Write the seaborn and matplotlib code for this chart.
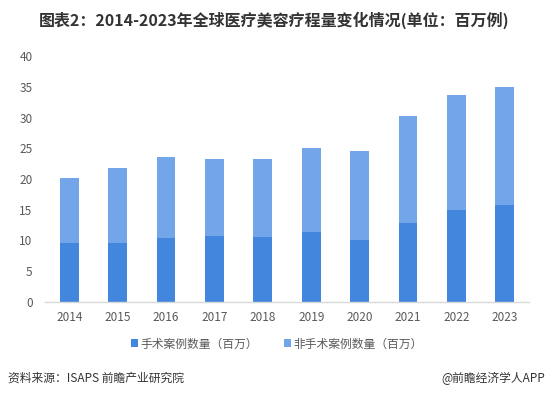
import matplotlib
matplotlib.use("Agg")
import matplotlib.pyplot as plt
import seaborn as sns
import pandas as pd
from matplotlib.patches import Patch

years = ["2014", "2015", "2016", "2017", "2018", "2019", "2020", "2021", "2022", "2023"]
surgical = [9.6, 9.6, 10.4, 10.7, 10.6, 11.4, 10.1, 12.8, 14.9, 15.8]
nonsurgical = [10.6, 12.1, 13.2, 12.6, 12.7, 13.6, 14.4, 17.5, 18.8, 19.1]
series_names = ["手术案例数量（百万）", "非手术案例数量（百万）"]
yticks = [0, 5, 10, 15, 20, 25, 30, 35, 40]

df = pd.DataFrame({"year": years, "surgical": surgical, "nonsurgical": nonsurgical})
df["total"] = df["surgical"] + df["nonsurgical"]

sns.set_theme(style="white")
plt.rcParams["font.family"] = ["Noto Sans CJK SC", "DejaVu Sans"]

c_dark = "#4286DE"
c_light = "#73A6E8"
txt = "#595959"

fig = plt.figure(figsize=(5.51, 3.98), dpi=100)
ax = fig.add_axes([0.0817, 0.242, 0.8785, 0.617])

sns.barplot(data=df, x="year", y="total", order=years, color=c_light,
            width=0.39, saturation=1, ax=ax, linewidth=0)
sns.barplot(data=df, x="year", y="surgical", order=years, color=c_dark,
            width=0.39, saturation=1, ax=ax, linewidth=0)

ax.set_xlim(-0.5, len(years) - 0.5)
ax.set_ylim(0, 40)
ax.set_yticks(yticks)
ax.set_yticklabels([str(v) for v in yticks])
ax.set_xlabel("")
ax.set_ylabel("")
for s in ["top", "right", "left"]:
    ax.spines[s].set_visible(False)
ax.spines["bottom"].set_color("#D9D9D9")
ax.spines["bottom"].set_linewidth(1)
ax.tick_params(axis="both", length=0, labelsize=8.5, colors=txt)
ax.tick_params(axis="y", pad=9)
ax.tick_params(axis="x", pad=7)

fig.text(0.497, 0.949, "图表2：2014-2023年全球医疗美容疗程量变化情况(单位：百万例)",
         ha="center", va="center", fontsize=11.5, fontweight="bold", color="#333333")

handles = [Patch(facecolor=c_dark, edgecolor="none"), Patch(facecolor=c_light, edgecolor="none")]
fig.legend(handles, series_names, loc="center", bbox_to_anchor=(0.503, 0.136), ncol=2,
           frameon=False, fontsize=8.5, handlelength=0.6, handleheight=0.6,
           handletextpad=0.2, columnspacing=2.2, labelcolor=txt)

fig.text(0.014, 0.05, "资料来源：ISAPS 前瞻产业研究院", ha="left", va="center",
         fontsize=8.5, color="#333333")
fig.text(0.99, 0.05, "@前瞻经济学人APP", ha="right", va="center",
         fontsize=8.5, color="#333333")

fig.savefig("out.png", dpi=100)
